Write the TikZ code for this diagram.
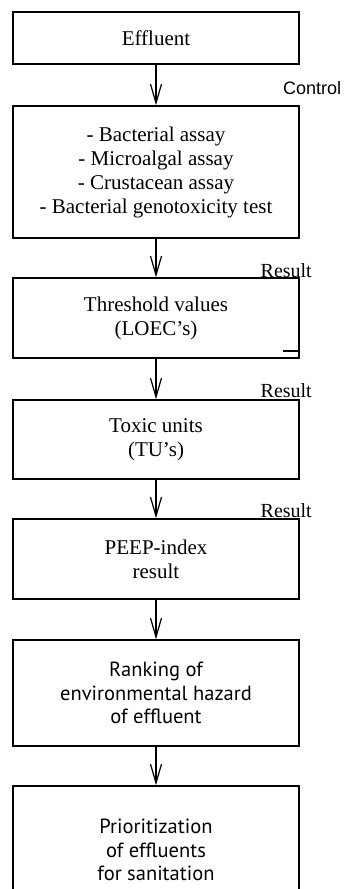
\documentclass[tikz,border=0pt]{standalone}
\usepackage{fontspec}
\setmainfont{Liberation Serif}
\newfontfamily\labelsans{Liberation Sans}
\newfontfamily\boxsans{PT Sans}
\usetikzlibrary{arrows.meta}
\begin{document}
\begin{tikzpicture}[x=1pt,y=-1pt,
  stagebox/.style={draw, line width=1.5pt, minimum width=286pt, inner sep=0pt,
    align=center, font=\fontsize{21}{24}\selectfont},
  lowbox/.style={stagebox, font=\boxsans\fontsize{20.5}{23.5}\selectfont},
  flow/.style={line width=1.2pt, -{Straight Barb[length=19pt,width=11pt,line width=1.2pt]}},
  tag/.style={inner sep=0pt, font=\fontsize{20}{24}\selectfont}]
\useasboundingbox (0,0) rectangle (344,889);

\node[stagebox, minimum height=52pt] (b1) at (156,38) {Effluent};
\node[stagebox, minimum height=132pt] (b2) at (156,172)
  {- Bacterial assay\\- Microalgal assay\\- Crustacean assay\\- Bacterial genotoxicity test};
\node[stagebox, minimum height=80pt] (b3) at (156,318) {Threshold values\\(LOEC's)};
\node[stagebox, minimum height=79pt] (b4) at (156,439.5) {Toxic units\\(TU's)};
\node[stagebox, minimum height=80pt] (b5) at (156,559) {PEEP-index\\result};
\node[lowbox, minimum height=106pt] (b6) at (156,693) {Ranking of\\environmental hazard\\of effluent};
\node[lowbox, minimum height=128pt] (b7) at (156,850) {Prioritization\\of effluents\\for sanitation};

\draw[flow] (b1) -- (b2);
\draw[flow] (b2) -- (b3);
\draw[flow] (b3) -- (b4);
\draw[flow] (b4) -- (b5);
\draw[flow] (b5) -- (b6);
\draw[flow] (b6) -- (b7);

\node[inner sep=0pt, anchor=base west, font=\labelsans\fontsize{18}{22}\selectfont] (ctl) at (283,94) {Control};
\node[tag, anchor=base east] (r1) at (312,277) {Result};
\node[tag, anchor=base east] (r2) at (312,397) {Result};
\node[tag, anchor=base east] (r3) at (312,517) {Result};

\coordinate (tick) at (283,351);
\draw[line width=1.5pt] (tick) -- (tick -| b3.east);
\end{tikzpicture}
\end{document}
